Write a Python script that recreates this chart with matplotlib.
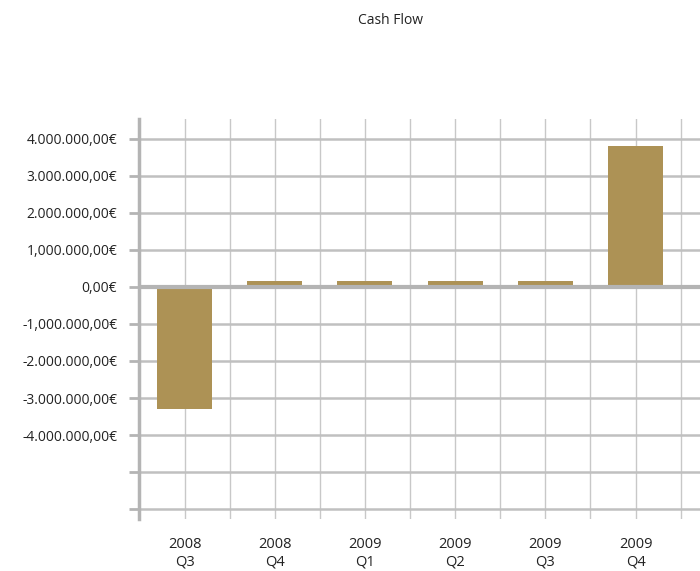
import matplotlib.pyplot as plt
from matplotlib.ticker import FixedLocator

# quarterly cash flow in euro
quarters = ['2008\nQ3', '2008\nQ4', '2009\nQ1', '2009\nQ2', '2009\nQ3', '2009\nQ4']
cash_flow = [-3290000, 170000, 170000, 170000, 170000, 3800000]

y_ticks = [4e6, 3e6, 2e6, 1e6, 0, -1e6, -2e6, -3e6, -4e6, -5e6, -6e6]
y_labels = ['4.000.000,00€', '3.000.000,00€', '2.000.000,00€', '1,000.000,00€', '0,00€',
            '-1,000.000,00€', '-2.000.000,00€', '-3.000.000,00€', '-4.000.000,00€', '', '']

plt.rcParams['font.family'] = ['Open Sans', 'DejaVu Sans']

fig = plt.figure(figsize=(7, 5.71), dpi=100)
ax = fig.add_axes([139.4 / 700, 1 - 519 / 571, (700 - 139.4) / 700, 400 / 571])

x = list(range(len(quarters)))
ax.bar(x, cash_flow, width=0.61, color='#ad9255', zorder=3)

ax.set_xlim(-0.5, 5.715)
ax.set_ylim(-6.264e6, 4.527e6)

# grid lines at category centres and boundaries
for gx in [i * 0.5 - 0.5 for i in range(14)]:
    ax.axvline(gx, color='#c8c8c8', lw=1.0, zorder=1)
for gy in y_ticks:
    if gy != 0:
        ax.axhline(gy, color='#c0c0c0', lw=1.8, zorder=1)
ax.axhline(0, color='#b4b4b4', lw=3, zorder=4)

ax.yaxis.set_major_locator(FixedLocator(y_ticks))
ax.set_yticklabels(y_labels)
ax.tick_params(axis='y', length=7, width=2, color='#b4b4b4', pad=9,
               labelsize=10, labelcolor='#222222')

ax.set_xticks(x)
ax.set_xticklabels(quarters)
ax.tick_params(axis='x', length=0, pad=13, labelsize=10.5, labelcolor='#222222')
for lbl in ax.get_xticklabels():
    lbl.set_linespacing(1.25)

for side in ['top', 'right', 'bottom']:
    ax.spines[side].set_visible(False)
ax.spines['left'].set_color('#b4b4b4')
ax.spines['left'].set_linewidth(2.5)
ax.spines['left'].set_zorder(5)

fig.text(391 / 700, 1 - 20 / 571, 'Cash Flow', ha='center', va='center',
         fontsize=10, color='#222222')

fig.savefig('out.png', dpi=100)
